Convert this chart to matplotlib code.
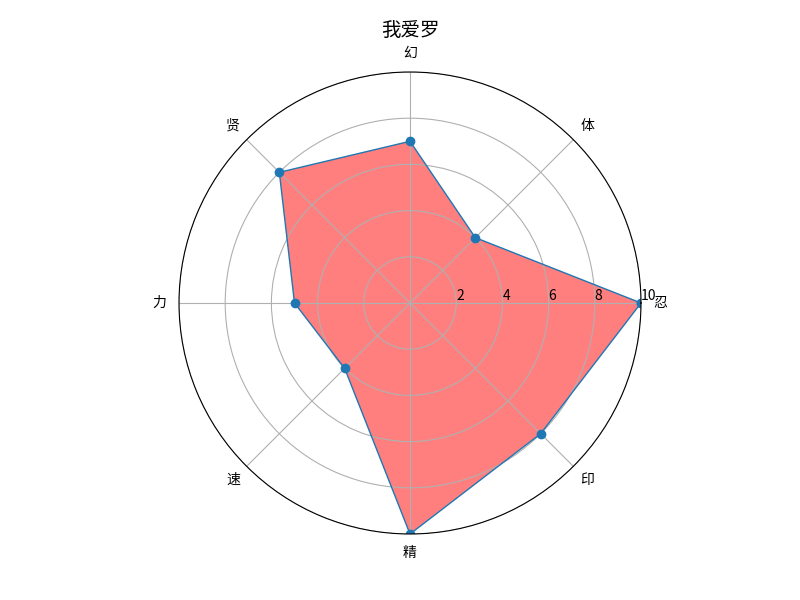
import numpy as np
import matplotlib
matplotlib.use("Agg")
import matplotlib.pyplot as plt

plt.rcParams['font.family'] = ['Noto Sans CJK SC', 'DejaVu Sans']
plt.rcParams['axes.unicode_minus'] = False

labels = ['忍', '体', '幻', '贤', '力', '速', '精', '印']
values = [10, 4, 7, 8, 5, 4, 10, 8]
title = '我爱罗'

n = len(labels)
angles = np.linspace(0, 2 * np.pi, n, endpoint=False)
vals = np.concatenate([values, [values[0]]])
angs = np.concatenate([angles, [angles[0]]])

fig = plt.figure(figsize=(8, 6), dpi=100)
ax = fig.add_subplot(111, polar=True)
ax.plot(angs, vals, 'o-', linewidth=1)
ax.fill(angs, vals, 'r', alpha=0.5)
ax.set_thetagrids(angles * 180 / np.pi, labels)
ax.set_ylim(0, 10)
ax.set_rlabel_position(0)
ax.set_title(title, fontsize=14)
ax.grid(True)
fig.savefig('out.png', dpi=100)
